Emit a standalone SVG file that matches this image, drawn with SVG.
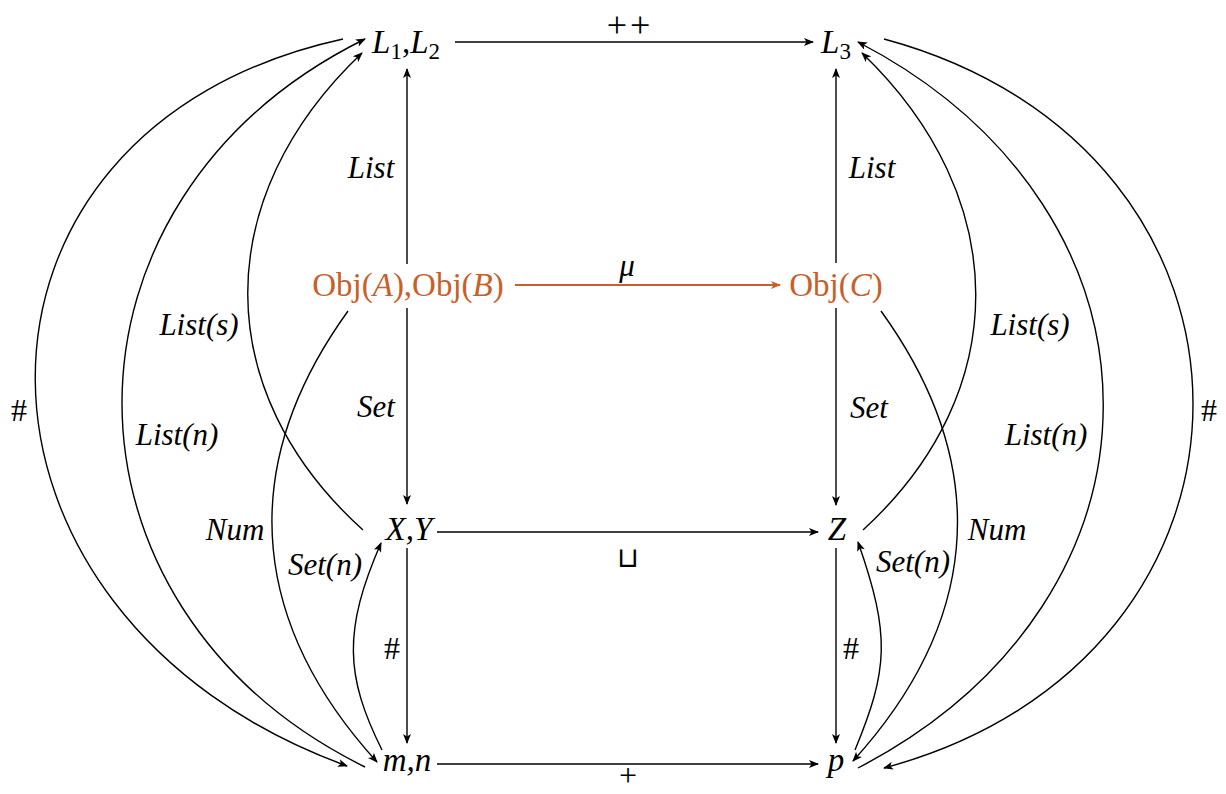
<svg xmlns="http://www.w3.org/2000/svg" width="1226" height="794" viewBox="0 0 1226 794">
<style>
.n{font-family:"Liberation Serif","Times New Roman","DejaVu Serif",Times,serif;font-size:33px;fill:#000;text-anchor:middle}
.o{fill:#c8602a}
.i{font-style:italic}
.l{font-family:"Liberation Serif","Times New Roman","DejaVu Serif",Times,serif;font-size:31px;font-style:italic;fill:#000;text-anchor:middle}
.h{font-family:"Liberation Serif","Times New Roman","DejaVu Serif",Times,serif;font-size:32px;fill:#000;text-anchor:middle}
.e{fill:none;stroke:#000;stroke-width:1.4;marker-end:url(#ah)}
.eo{fill:none;stroke:#c8602a;stroke-width:1.8;marker-end:url(#aho)}
</style>
<defs>
<marker id="ah" viewBox="0 0 10 8" refX="9" refY="4" markerWidth="11" markerHeight="8" markerUnits="userSpaceOnUse" orient="auto"><path d="M0,0 L10,4 L0,8 L2.5,4 z" fill="#000"/></marker>
<marker id="aho" viewBox="0 0 10 8" refX="9" refY="4" markerWidth="11" markerHeight="8" markerUnits="userSpaceOnUse" orient="auto"><path d="M0,0 L10,4 L0,8 L2.5,4 z" fill="#c8602a"/></marker>
</defs>
<g id="connectors">
<path class="e" d="M455,42 H813"/>
<path class="e" d="M407,264 V69"/>
<path class="e" d="M407,308 V504"/>
<path class="e" d="M407,548 V743"/>
<path class="e" d="M437,532 H818"/>
<path class="e" d="M437,764 H818"/>
<path class="eo" d="M515,285 H780"/>
<path class="e" d="M836,263 V69"/>
<path class="e" d="M836,308 V505"/>
<path class="e" d="M836,548 V743"/>
<path class="e" d="M343,39 C-70,129 -66,616 347,766"/>
<path class="e" d="M365,767 C41,607 41,199 365,39"/>
<path class="e" d="M363,530 C210,392 209,198 362,53"/>
<path class="e" d="M348,311 C229,476 258,631 377,762"/>
<path class="e" d="M382,750 C345,676 343,630 381,543"/>
<path class="e" d="M884,39 C1296,150 1296,658 884,768"/>
<path class="e" d="M858,768 C1185,598 1185,212 858,42"/>
<path class="e" d="M863,530 C1014,392 1013,198 862,53"/>
<path class="e" d="M881,311 C1000,476 972,630 853,761"/>
<path class="e" d="M855,750 C888,670 891,636 858,542"/>
</g>
<g id="edge-labels">
<text class="n" x="630" y="37" letter-spacing="3" style="font-size:36px">++</text>
<text class="l" x="371" y="178">List</text>
<text class="l o" x="627" y="276">μ</text>
<text class="l" x="199" y="335">List(s)</text>
<text class="l" x="376" y="417">Set</text>
<text class="h" x="19" y="421">#</text>
<text class="l" x="177" y="445">List(n)</text>
<text class="l" x="235" y="540">Num</text>
<text x="628" y="567" style="font-family:'DejaVu Sans',sans-serif;font-size:28px;text-anchor:middle">⊔</text>
<text class="l" x="325" y="575">Set(n)</text>
<text class="h" x="392" y="659">#</text>
<text class="n" x="628" y="786" style="font-size:32px">+</text>
<text class="l" x="872" y="178">List</text>
<text class="l" x="869" y="418">Set</text>
<text class="l" x="1030" y="335">List(s)</text>
<text class="l" x="1046" y="445">List(n)</text>
<text class="l" x="997" y="540">Num</text>
<text class="l" x="913" y="572">Set(n)</text>
<text class="h" x="1209" y="421">#</text>
<text class="h" x="851" y="659">#</text>
</g>
<g id="node-L1L2"><text class="n" x="406" y="53"><tspan class="i">L</tspan><tspan font-size="23" dy="6">1</tspan><tspan dy="-6">,</tspan><tspan class="i">L</tspan><tspan font-size="23" dy="6">2</tspan></text></g>
<g id="node-L3"><text class="n" x="836" y="53"><tspan class="i">L</tspan><tspan font-size="23" dy="6">3</tspan></text></g>
<g id="node-ObjAB"><text class="n o" x="408" y="296">Obj(<tspan class="i">A</tspan>),Obj(<tspan class="i">B</tspan>)</text></g>
<g id="node-ObjC"><text class="n o" x="836" y="296">Obj(<tspan class="i">C</tspan>)</text></g>
<g id="node-XY"><text class="n i" x="409" y="540">X,Y</text></g>
<g id="node-Z"><text class="n i" x="837" y="540">Z</text></g>
<g id="node-mn"><text class="n i" x="407" y="771">m,n</text></g>
<g id="node-p"><text class="n i" x="836" y="771">p</text></g>
</svg>
